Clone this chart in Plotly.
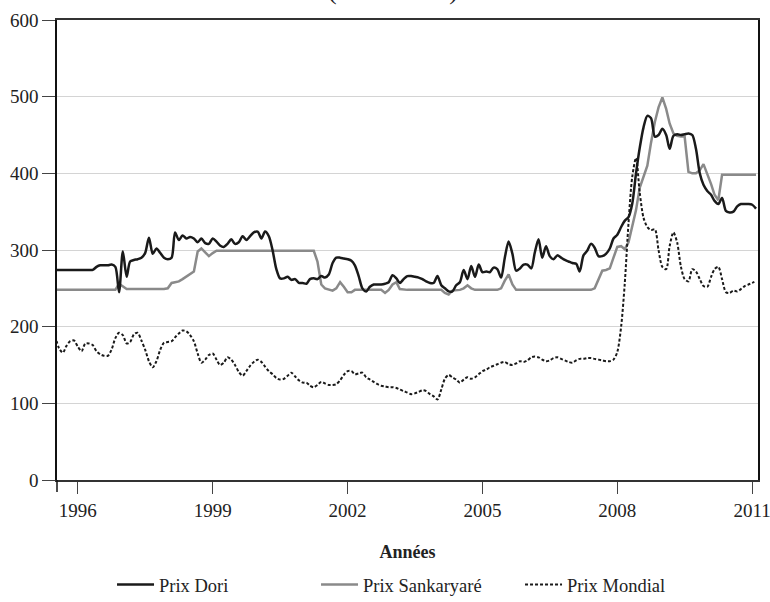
import pandas as pd
import plotly.graph_objects as go

# Monthly observations, July 1995 -> February 2011
months = pd.date_range("1995-07-01", "2011-02-01", freq="MS")

prix_dori = [
    274, 274, 274, 274, 274, 274, 274, 274, 274, 274, 274, 278,
    280, 280, 280, 281, 278, 245, 298, 265, 285, 287, 288, 290,
    296, 316, 295, 302, 296, 290, 288, 290, 323, 313, 319, 315,
    317, 315, 310, 315, 309, 308, 315, 311, 306, 304, 308, 314,
    308, 310, 318, 313, 318, 323, 324, 315, 324, 318, 300, 275,
    263, 263, 265, 261, 262, 257, 257, 256, 262, 263, 262, 266,
    264, 268, 283, 290, 290, 289, 288, 286, 280, 266, 250, 246,
    252, 255, 255, 255, 256, 258, 267, 263, 257, 262, 266, 266,
    265, 264, 262, 259, 257, 257, 266, 254, 250, 246, 246, 254,
    258, 274, 262, 279, 265, 281, 271, 272, 271, 277, 275, 264,
    290, 311, 295, 273, 276, 281, 281, 276, 296, 314, 290, 305,
    292, 288, 293, 290, 287, 285, 283, 282, 272, 293, 299, 308,
    303, 292, 292, 295, 302, 315, 320, 330, 338, 343, 360, 400,
    433, 460, 475, 472, 448, 450, 458, 450, 432, 449, 451, 450,
    451, 452, 450, 432, 400, 385, 377, 372, 364, 360, 368, 351,
    349, 350, 357, 360, 360, 360, 359, 354,
]

prix_sankaryare = [
    248, 248, 248, 248, 248, 248, 248, 248, 248, 248, 248, 248,
    248, 248, 248, 248, 248, 256, 252, 249, 249, 249, 249, 249,
    249, 249, 249, 249, 249, 249, 250, 257, 258, 259, 262, 265,
    268, 272, 298, 302, 297, 292, 296, 299, 299, 299, 299, 299,
    299, 299, 299, 299, 299, 299, 299, 299, 299, 299, 299, 299,
    299, 299, 299, 299, 299, 299, 299, 299, 299, 299, 285, 255,
    250, 249, 247, 250, 258, 252, 245, 245, 248, 248, 248, 248,
    248, 248, 248, 248, 244, 248, 255, 258, 249, 248, 248, 248,
    248, 248, 248, 248, 248, 248, 248, 248, 244, 242, 247, 248,
    248, 250, 254, 250, 248, 248, 248, 248, 248, 248, 248, 250,
    260, 268, 255, 248, 248, 248, 248, 248, 248, 248, 248, 248,
    248, 248, 248, 248, 248, 248, 248, 248, 248, 248, 248, 248,
    250, 262, 273, 274, 276, 290, 304, 305, 301, 310, 330, 352,
    381, 397, 410, 440, 467, 486, 499, 484, 465, 452, 449, 448,
    448, 402, 400, 400, 404, 412, 400, 386, 372, 365, 398, 398,
    398, 398, 398, 398, 398, 398, 398, 398,
]

prix_mondial = [
    188, 172, 166, 175, 181, 182, 174, 168, 178, 178, 176, 168,
    164, 162, 162, 170, 185, 192, 189, 178, 180, 190, 192, 182,
    170, 155, 147, 155, 170, 179, 180, 181, 186, 191, 195, 194,
    189, 181, 165, 153, 157, 163, 165, 157, 150, 153, 160, 157,
    150, 141, 136, 142, 149, 154, 157, 154, 148, 142, 138, 133,
    131, 132, 136, 140, 135, 130, 127, 127, 123, 121, 124, 128,
    126, 124, 124, 125, 130, 137, 142, 142, 138, 139, 140, 134,
    131, 128, 125, 123, 122, 121, 121, 120, 118, 116, 114, 112,
    113, 115, 117, 116, 112, 109, 105, 118, 132, 137, 134, 131,
    127, 131, 134, 132, 134, 138, 142, 144, 147, 149, 151, 153,
    154, 151, 150, 152, 155, 154, 156, 160, 161, 160, 157, 155,
    156, 159, 160, 158, 156, 154, 153, 156, 158, 158, 159, 159,
    158, 157, 156, 155, 155, 157, 167, 200, 255, 335, 395, 420,
    375, 342, 330, 326, 327, 300, 278, 275, 305, 323, 310, 278,
    262, 259, 275, 272, 262, 253, 252, 265, 275, 278, 262, 245,
    244, 247, 246, 249, 253, 255, 257, 260,
]

tick_years = ["1996", "1999", "2002", "2005", "2008", "2011"]
y_ticks = [0, 100, 200, 300, 400, 500, 600]

FONT = "Liberation Serif"

fig = go.Figure()
fig.add_trace(go.Scatter(
    x=months, y=prix_sankaryare, name="Prix Sankaryaré", mode="lines",
    line=dict(color="#8a8a8a", width=2.5), legendrank=2,
))
fig.add_trace(go.Scatter(
    x=months, y=prix_mondial, name="Prix Mondial", mode="lines",
    line=dict(color="#1a1a1a", width=2, dash="3px,2px", shape="spline", smoothing=0.8),
    legendrank=3,
))
fig.add_trace(go.Scatter(
    x=months, y=prix_dori, name="Prix Dori", mode="lines",
    line=dict(color="#1a1a1a", width=2.5, shape="spline", smoothing=0.8),
    legendrank=1,
))

fig.update_layout(
    width=770, height=602,
    margin=dict(l=57, r=12, t=20, b=122, autoexpand=False),
    paper_bgcolor="white", plot_bgcolor="white",
    font=dict(family=FONT, color="#222", size=18),
    showlegend=True,
    legend=dict(
        orientation="h", x=0.0785, xanchor="left", y=-0.2283, yanchor="middle",
        font=dict(family=FONT, size=18.5, color="#222"),
        itemwidth=37,
        entrywidth=152, entrywidthmode="pixels", traceorder="normal",
    ),
    xaxis=dict(
        type="date", range=["1995-07-16", "2011-02-17"], automargin=False,
        tickvals=[f"{y}-01-01" for y in tick_years], ticktext=tick_years,
        ticks="outside", ticklen=12, tickwidth=1.2, tickcolor="#444",
        ticklabeloverflow="allow",
        showline=True, linecolor="#333", linewidth=1.5, mirror=True,
        showgrid=False, zeroline=False,
        tickfont=dict(family=FONT, size=19, color="#222"),
        title=dict(text="<b>Années</b>", font=dict(family=FONT, size=18, color="#222"), standoff=26),
    ),
    yaxis=dict(
        range=[0, 600], tickvals=y_ticks, automargin=False,
        ticks="outside", ticklen=13, tickwidth=1.2, tickcolor="#444",
        ticklabeloverflow="allow",
        showline=True, linecolor="#111", linewidth=1.5, mirror=True,
        showgrid=True, gridcolor="#d4d4d4", gridwidth=1.2, zeroline=False,
        tickfont=dict(family=FONT, size=19, color="#222"),
    ),
    annotations=[dict(
        text="(1995-2010)", xref="paper", yref="paper",
        x=(393 - 57) / 701, y=1.028, xanchor="center", yanchor="bottom",
        showarrow=False, font=dict(family=FONT, size=26, color="#222"),
    )],
    shapes=[dict(
        type="line", xref="paper", yref="paper", x0=0, x1=0, y0=0, y1=-12 / 460,
        line=dict(color="#111", width=1.5),
    )],
)

fig.write_html(
    "out.html",
    config={"displayModeBar": False},
    post_script="document.body.style.margin='0';",
)
